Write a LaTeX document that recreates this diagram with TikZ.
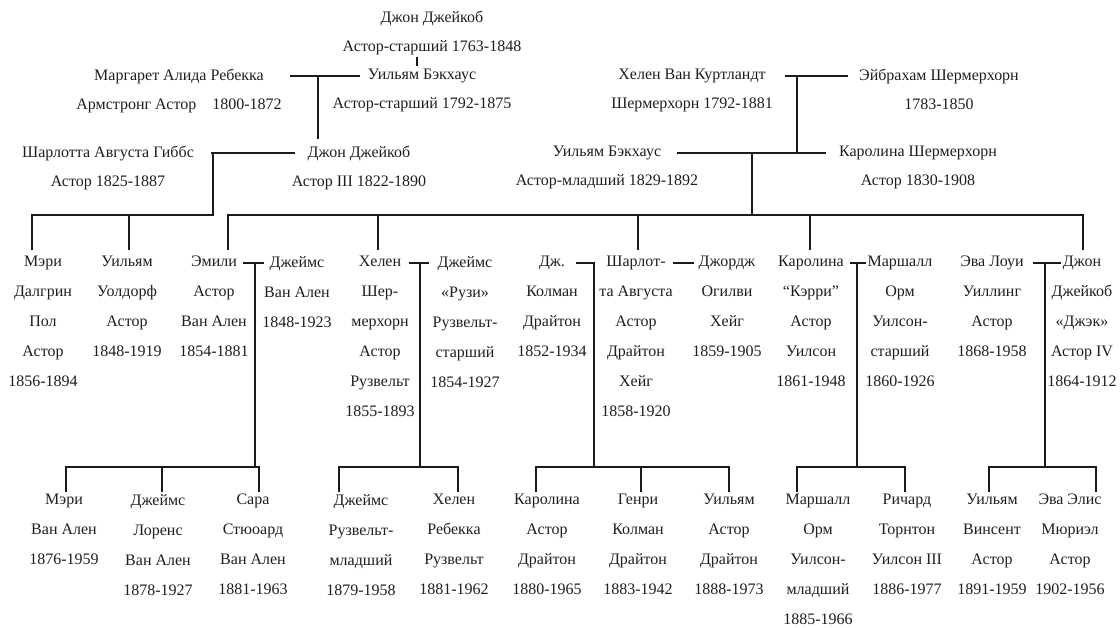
\documentclass[tikz,border=0pt]{standalone}
\usepackage{fontspec}
\setmainfont{Liberation Serif}
\definecolor{txt}{HTML}{1E1E1E}
\definecolor{ln}{HTML}{1A1A1A}
\begin{document}
\begin{tikzpicture}[x=1pt,y=-1pt,
  person/.style={align=center, anchor=north, inner sep=0pt, text=txt,
    font=\fontsize{16}{30}\selectfont, execute at begin node={\rule{0pt}{11.5pt}}},
  elder/.style={person, font=\fontsize{16}{29}\selectfont},
  link/.style={line width=2.8pt, draw=ln, line cap=butt}]
\useasboundingbox (0,0) rectangle (1120,628);

% ---------- generation 1-3 ----------
\node[elder] (jj1) at (432,11) {Джон Джейкоб\\Астор-старший 1763-1848};
\node[elder] (margaret) at (179,69) {Маргарет Алида Ребекка\\Армстронг Астор\quad 1800-1872};
\node[elder] (wb1) at (422,69) {Уильям Бэкхаус\\Астор-старший 1792-1875};
\node[elder] (helen1) at (692,69) {Хелен Ван Куртландт\\Шермерхорн 1792-1881};
\node[elder] (abraham) at (939,69) {Эйбрахам Шермерхорн\\1783-1850};
\node[elder] (charlotte1) at (108,146) {Шарлотта Августа Гиббс\\Астор 1825-1887};
\node[elder] (jj3) at (359,146) {Джон Джейкоб\\Астор III 1822-1890};
\node[elder] (wb2) at (607,146) {Уильям Бэкхаус\\Астор-младший 1829-1892};
\node[elder] (caroline1) at (918,146) {Каролина Шермерхорн\\Астор 1830-1908};

% ---------- generation 4 ----------
\node[person] (mary1) at (43,256) {Мэри\\Далгрин\\Пол\\Астор\\1856-1894};
\node[person] (ww) at (127,256) {Уильям\\Уолдорф\\Астор\\1848-1919};
\node[person] (emily) at (214,256) {Эмили\\Астор\\Ван Ален\\1854-1881};
\node[person] (jamesva) at (297,256) {Джеймс\\Ван Ален\\1848-1923};
\node[person] (helen2) at (380,256) {Хелен\\Шер-\\мерхорн\\Астор\\Рузвельт\\1855-1893};
\node[person] (rosie) at (465,256) {Джеймс\\«Рузи»\\Рузвельт-\\старший\\1854-1927};
\node[person] (drayton) at (552,256) {Дж.\\Колман\\Драйтон\\1852-1934};
\node[person] (charlotte2) at (636,256) {Шарлот-\\та Августа\\Астор\\Драйтон\\Хейг\\1858-1920};
\node[person] (haig) at (727,256) {Джордж\\Огилви\\Хейг\\1859-1905};
\node[person] (carrie) at (811,256) {Каролина\\“Кэрри”\\Астор\\Уилсон\\1861-1948};
\node[person] (wilson) at (900,256) {Маршалл\\Орм\\Уилсон-\\старший\\1860-1926};
\node[person] (ava) at (992,256) {Эва Лоуи\\Уиллинг\\Астор\\1868-1958};
\node[person] (jj4) at (1082,256) {Джон\\Джейкоб\\«Джэк»\\Астор IV\\1864-1912};

% ---------- generation 5 ----------
\node[person] (mary2) at (64,494) {Мэри\\Ван Ален\\1876-1959};
\node[person] (jlva) at (158,494) {Джеймс\\Лоренс\\Ван Ален\\1878-1927};
\node[person] (sara) at (253,494) {Сара\\Стюоард\\Ван Ален\\1881-1963};
\node[person] (jrjr) at (361,494) {Джеймс\\Рузвельт-\\младший\\1879-1958};
\node[person] (helenrr) at (454,494) {Хелен\\Ребекка\\Рузвельт\\1881-1962};
\node[person] (carold) at (547,494) {Каролина\\Астор\\Драйтон\\1880-1965};
\node[person] (henry) at (638,494) {Генри\\Колман\\Драйтон\\1883-1942};
\node[person] (wad) at (729,494) {Уильям\\Астор\\Драйтон\\1888-1973};
\node[person] (mowjr) at (818,494) {Маршалл\\Орм\\Уилсон-\\младший\\1885-1966};
\node[person] (rtw) at (907,494) {Ричард\\Торнтон\\Уилсон III\\1886-1977};
\node[person] (wva) at (992,494) {Уильям\\Винсент\\Астор\\1891-1959};
\node[person] (aema) at (1070,494) {Эва Элис\\Мюриэл\\Астор\\1902-1956};

% ---------- junction coordinates ----------
\coordinate (t1) at (417,57);  \coordinate (t2) at (417,66);
\coordinate (a1) at (290,76);  \coordinate (a2) at (360,76);
\coordinate (a3) at (318,76);  \coordinate (a4) at (318,139);
\coordinate (s1) at (785,76);  \coordinate (s2) at (848,76);
\coordinate (s3) at (797,76);  \coordinate (s4) at (797,153);
\coordinate (b1) at (211,153); \coordinate (b2) at (295,153);
\coordinate (b3) at (213,215); \coordinate (b4) at (32,250);
\coordinate (b5) at (129,250);
\coordinate (c1) at (677,153); \coordinate (c2) at (826,153);
\coordinate (c3) at (752,153); \coordinate (c4) at (752,215);
\coordinate (cL) at (228,250); \coordinate (cR) at (1083,250);
\coordinate (c5) at (378,250); \coordinate (c6) at (638,250);
\coordinate (c7) at (810,250);
% generation 4 couples
\coordinate (e1) at (243,263); \coordinate (e2) at (264,263); \coordinate (e3) at (255,467);
\coordinate (e4) at (66,492);  \coordinate (e5) at (162,492); \coordinate (e6) at (259,492);
\coordinate (r1) at (409,263); \coordinate (r2) at (429,263); \coordinate (r3) at (420,467);
\coordinate (r4) at (339,492); \coordinate (r5) at (458,492);
\coordinate (d1) at (576,263); \coordinate (d2) at (594,263); \coordinate (d3) at (594,467);
\coordinate (d4) at (536,492); \coordinate (d5) at (641,492); \coordinate (d6) at (729,492);
\coordinate (h1) at (673,263); \coordinate (h2) at (694,263);
\coordinate (w1) at (850,263); \coordinate (w2) at (866,263); \coordinate (w3) at (857,467);
\coordinate (w4) at (797,492); \coordinate (w5) at (905,492);
\coordinate (v1) at (1033,263); \coordinate (v2) at (1061,263); \coordinate (v3) at (1045,467);
\coordinate (v4) at (989,492); \coordinate (v5) at (1096,492);

% ---------- connectors ----------
\draw[link] (t1) -- (t2);
\draw[link] (a1) -- (a2);
\draw[link] (a3) -- (a4);
\draw[link] (s1) -- (s2);
\draw[link] (s3) -- (s4);
% John Jacob III & Charlotte
\draw[link] (b1) -- (b2);
\draw[link] (b1 -| b3) -- (b3) -- (b3 -| b4) -- (b4);
\draw[link] (b5 |- b3) -- (b5);
% William Backhouse jr & Caroline
\draw[link] (c1) -- (c2);
\draw[link] (c3) -- (c4);
\draw[link] (cL) -- (cL |- c4) -- (cR |- c4) -- (cR);
\draw[link] (c5 |- c4) -- (c5);
\draw[link] (c6 |- c4) -- (c6);
\draw[link] (c7 |- c4) -- (c7);
% Van Alen
\draw[link] (e1) -- (e2);
\draw[link] (e2 -| e3) -- (e3);
\draw[link] (e4) -- (e4 |- e3) -- (e6 |- e3) -- (e6);
\draw[link] (e5 |- e3) -- (e5);
% Roosevelt
\draw[link] (r1) -- (r2);
\draw[link] (r2 -| r3) -- (r3);
\draw[link] (r4) -- (r4 |- r3) -- (r5 |- r3) -- (r5);
% Drayton
\draw[link] (d1) -- (d2) -- (d3);
\draw[link] (d4) -- (d4 |- d3) -- (d6 |- d3) -- (d6);
\draw[link] (d5 |- d3) -- (d5);
% Haig
\draw[link] (h1) -- (h2);
% Wilson
\draw[link] (w1) -- (w2);
\draw[link] (w2 -| w3) -- (w3);
\draw[link] (w4) -- (w4 |- w3) -- (w5 |- w3) -- (w5);
% Astor IV
\draw[link] (v1) -- (v2);
\draw[link] (v2 -| v3) -- (v3);
\draw[link] (v4) -- (v4 |- v3) -- (v5 |- v3) -- (v5);
\end{tikzpicture}
\end{document}
